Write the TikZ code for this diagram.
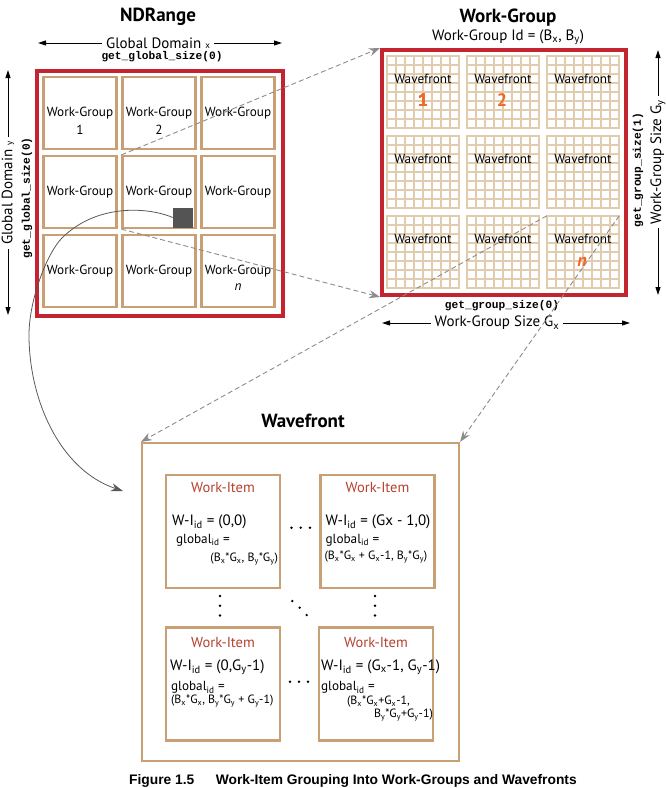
\documentclass[tikz,border=0pt]{standalone}
\usepackage{fontspec}
\setmainfont{PT Sans}
\setmonofont{Liberation Mono}
\newfontfamily\capfont{Liberation Sans}
\usetikzlibrary{arrows.meta,positioning}
\definecolor{WgRed}{HTML}{C42330}
\definecolor{WgTan}{HTML}{C9A074}
\definecolor{WgGrid}{HTML}{E3CCAE}
\definecolor{WiRed}{HTML}{B4412F}
\definecolor{WfOrange}{HTML}{F06A24}
\definecolor{LinkGray}{HTML}{8C8C8C}
\newcommand{\sbs}[1]{\textsubscript{#1}}
\newcommand{\fsz}[1]{\fontsize{#1}{#1}\selectfont}

% one wavefront block: name, left x, top y
\newcommand{\wfblock}[3]{%
  \foreach \k in {0,...,8}{
    \draw[wfline] (#2+\k*9,#3) -- (#2+\k*9,#3+72);
    \draw[wfline] (#2,#3+\k*9) -- (#2+72,#3+\k*9);}
  \node[wfnode] (#1) at (#2+36,#3+36) {};
  \node[wftext] (#1-t) at (#2+36,#3+23) {Wavefront};
}

\begin{document}
\begin{tikzpicture}[x=1pt,y=-1pt,font=\fsz{13.2},
  title/.style={font=\bfseries\fsz{19}},
  redbox/.style={draw=WgRed,line width=4pt,inner sep=0pt},
  wgbox/.style={draw=WgTan,line width=2.2pt,minimum width=73pt,minimum height=72pt,inner sep=0pt},
  wfline/.style={draw=WgGrid,line width=2.7pt,line cap=rect},
  wfnode/.style={minimum width=72pt,minimum height=72pt,inner sep=0pt},
  wftext/.style={font=\fsz{13.2},inner sep=0pt},
  wfnum/.style={text=WfOrange,font=\bfseries\fsz{18},inner sep=0pt},
  witem/.style={draw=WgTan,line width=2.2pt,minimum width=114pt,minimum height=113pt,inner sep=0pt},
  wititle/.style={text=WiRed,font=\fsz{14.5},inner sep=0pt},
  wiid/.style={anchor=west,inner sep=0pt,font=\fsz{15}},
  wiglob/.style={anchor=west,inner sep=0pt,font=\fsz{13.2}},
  wiexpr/.style={inner sep=0pt,font=\fsz{12}},
  code/.style={font=\ttfamily\bfseries\fsz{11.2},inner sep=0pt},
  dimlbl/.style={fill=white,font=\fsz{15},inner xsep=4pt,inner ysep=0pt},
  dim/.style={{Triangle[length=8pt,width=5pt]}-{Triangle[length=8pt,width=5pt]},line width=0.9pt},
  link/.style={LinkGray,dash pattern=on 5pt off 3pt,line width=0.9pt,-{Stealth[length=11pt,width=8pt]}},
  curve/.style={draw=black!65,line width=0.8pt,-{Stealth[length=12pt,width=8pt]}}]
  \useasboundingbox (0,0) rectangle (665,788);

  % NDRange
  \node[title] (nd-title) at (158,17) {NDRange};
  \coordinate (gdx-a) at (38,43);
  \coordinate (gdx-b) at (282,43);
  \draw[dim] (gdx-a) -- (gdx-b);
  \node[dimlbl] (gdx) at (158,43) {Global Domain {\fsz{9}x}};
  \node[code] (gdx-code) at (162,57) {get\_global\_size(0)};
  \coordinate (gdy-a) at (8,70);
  \coordinate (gdy-b) at (8,315);
  \draw[dim] (gdy-a) -- (gdy-b);
  \node[dimlbl,rotate=90] (gdy) at (8,193) {Global Domain {\fsz{9}y}};
  \node[code,rotate=90] (gdy-code) at (27,198) {get\_global\_size(0)};

  \node[redbox,minimum width=246pt,minimum height=245pt] (ndr) at (160,193) {};
  \foreach \r/\y in {1/113,2/192,3/271}
    \foreach \c/\x in {1/80,2/159,3/238}
      \node[wgbox] (wg\r\c) at (\x,\y) {Work-Group};
  \node[inner sep=0pt] (wg11-n) at ([yshift=-17pt]wg11.center) {1};
  \node[inner sep=0pt] (wg12-n) at ([yshift=-17pt]wg12.center) {2};
  \node[inner sep=0pt] (wg33-n) at ([yshift=-16pt]wg33.center) {\itshape n};
  \node[fill=black!67,minimum size=20pt,inner sep=0pt] (sq) at (183,217.5) {};

  % Work-Group
  \node[title] (wg-title) at (508,18) {Work-Group};
  \node[font=\fsz{15}] (wg-id) at (508,37) {Work-Group Id = (B\sbs{x}, B\sbs{y})};
  \node[redbox,minimum width=244pt,minimum height=245pt] (wgr) at (504,172.5) {};
  \foreach \r/\y in {1/56,2/136,3/216}
    \foreach \c/\x in {1/387,2/467,3/547}
      \wfblock{wf\r\c}{\x}{\y}
  \node[wfnum] (wf11-n) at (423,100) {1};
  \node[wfnum] (wf12-n) at (502,100) {2};
  \node[wfnum,font=\bfseries\itshape\fsz{18}] (wf33-n) at (582,262) {n};

  \coordinate (wgy-a) at (658,50);
  \coordinate (wgy-b) at (658,295);
  \draw[dim] (wgy-a) -- (wgy-b);
  \node[dimlbl,rotate=90] (wgy) at (658,162) {Work-Group Size G\sbs{y}};
  \node[code,rotate=90] (wgy-code) at (638,170) {get\_group\_size(1)};
  \node[code] (wgx-code) at (502,306) {get\_group\_size(0)};
  \coordinate (wgx-a) at (382,323);
  \coordinate (wgx-b) at (630,323);
  \draw[dim] (wgx-a) -- (wgx-b);
  \node[dimlbl] (wgx) at (497,323) {Work-Group Size G\sbs{x}};

  % Wavefront
  \node[title] (wfb-title) at (303,421) {Wavefront};
  \node[witem,minimum width=317pt,minimum height=318pt] (wfb) at (300.5,602) {};
  \node[witem] (wi1) at (223,531.5) {};
  \node[witem] (wi2) at (377.5,531.5) {};
  \node[witem] (wi3) at (223,684) {};
  \node[witem] (wi4) at (376,684) {};
  \foreach \w/\d in {wi1/14,wi2/14,wi3/16,wi4/16}
    \node[wititle] (\w-t) at ([yshift=-\d pt]\w.north) {Work-Item};

  \node[wiid] (wi1-id) at ([shift={(7,48)}]wi1.north west) {W-I\sbs{id} = (0,0)};
  \node[wiglob] (wi1-g) at ([shift={(11,66)}]wi1.north west) {global\sbs{id} =};
  \node[wiexpr,anchor=east] (wi1-e) at ([shift={(-3,85)}]wi1.north east) {(B\sbs{x}*G\sbs{x}, B\sbs{y}*G\sbs{y})};

  \node[wiid] (wi2-id) at ([shift={(6,48)}]wi2.north west) {W-I\sbs{id} = (Gx - 1,0)};
  \node[wiglob] (wi2-g) at ([shift={(6,66)}]wi2.north west) {global\sbs{id} =};
  \node[wiexpr,anchor=west] (wi2-e) at ([shift={(5,83)}]wi2.north west) {(B\sbs{x}*G\sbs{x} + G\sbs{x}-1, B\sbs{y}*G\sbs{y})};

  \node[wiid] (wi3-id) at ([shift={(5,41)}]wi3.north west) {W-I\sbs{id} = (0,G\sbs{y}-1)};
  \node[wiglob] (wi3-g) at ([shift={(6,61)}]wi3.north west) {global\sbs{id} =};
  \node[wiexpr,anchor=west] (wi3-e) at ([shift={(6,75)}]wi3.north west) {(B\sbs{x}*G\sbs{x}, B\sbs{y}*G\sbs{y} + G\sbs{y}-1)};

  \node[wiid] (wi4-id) at ([shift={(3,41)}]wi4.north west) {W-I\sbs{id} = (G\sbs{x}-1, G\sbs{y}-1)};
  \node[wiglob] (wi4-g) at ([shift={(3,61)}]wi4.north west) {global\sbs{id} =};
  \node[wiexpr,anchor=west] (wi4-e) at ([shift={(29,75)}]wi4.north west) {(B\sbs{x}*G\sbs{x}+G\sbs{x}-1,};
  \node[wiexpr,anchor=east] (wi4-f) at ([shift={(-1,89)}]wi4.north east) {B\sbs{y}*G\sbs{y}+G\sbs{y}-1)};

  % ellipsis dots
  \foreach \x/\y in {291.5/527.7,300.7/527.7,310/527.7,290/681.7,299/681.7,308/681.7,
      220/596,220/605.7,220/615.5,375/596,375/605.7,375/615.5,
      292.3/601,299.7/607.7,306.7/615}
    \fill (\x,\y) circle (1.3);

  % links
  \draw[link] (wg22.north west) -- (wgr.north west);
  \draw[link] (wg22.south west) -- (wgr.south west);
  \draw[link] (wf33.north west) -- (wfb.north west);
  \draw[link] (wf33.north east) -- (wfb.north east);
  \coordinate (wfb-in) at (123,491);
  \draw[curve] (sq.west) .. controls (145,206) and (95,205) .. (62,238)
    .. controls (47,253) and (29,300) .. (29,335)
    .. controls (29,400) and (60,470) .. (wfb-in);

  \node[font=\capfont\bfseries\fsz{13.8},anchor=base west,inner sep=0pt] (cap) at (129,784)
    {Figure 1.5\quad\ \ Work-Item Grouping Into Work-Groups and Wavefronts};
\end{tikzpicture}
\end{document}
